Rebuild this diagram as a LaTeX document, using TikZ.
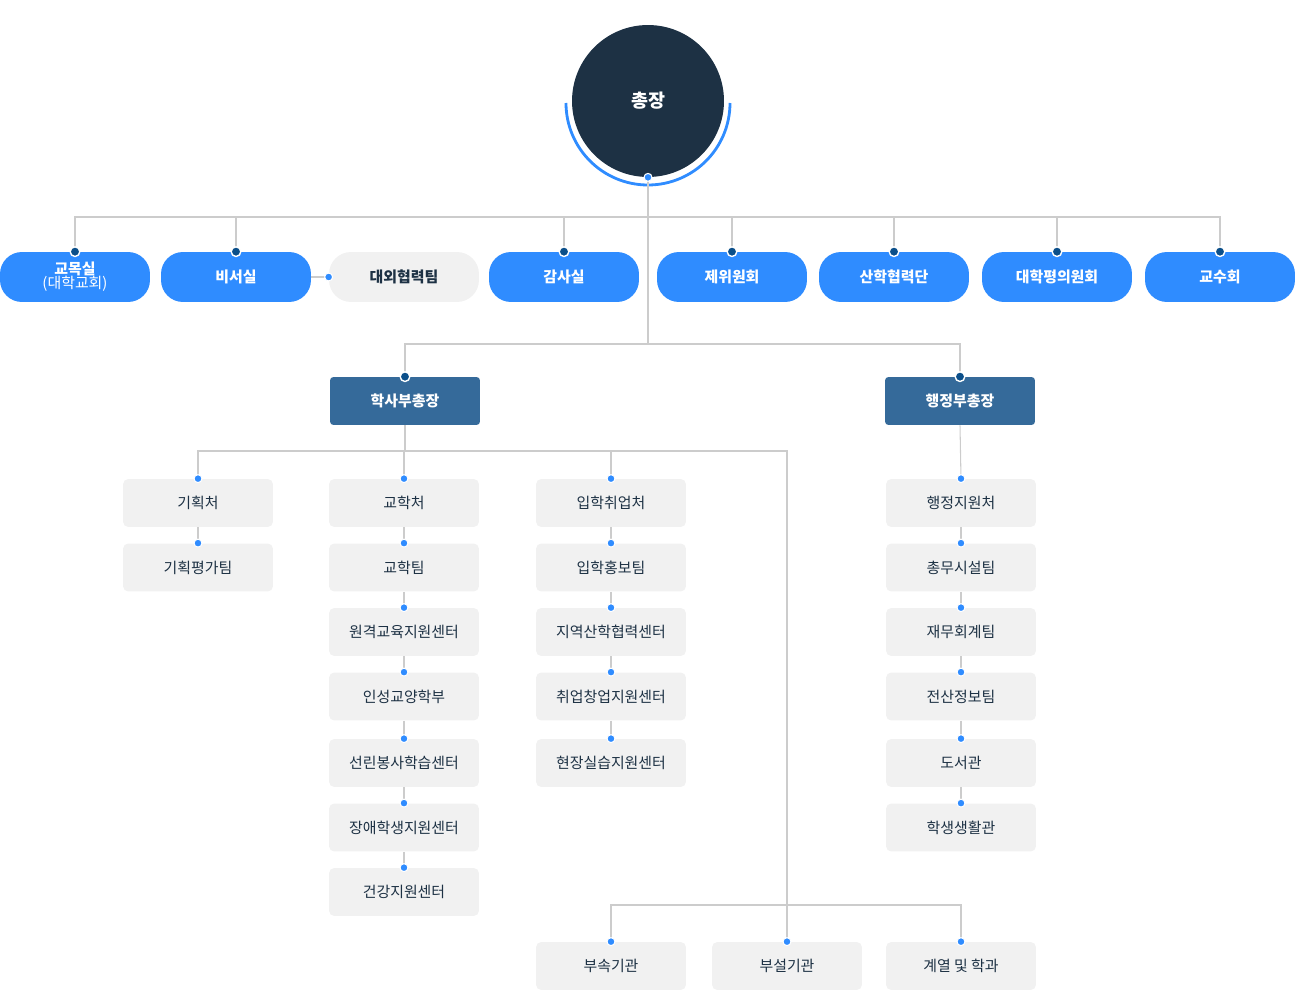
\documentclass[tikz,border=0pt]{standalone}
\usepackage{fontspec}
\newfontfamily\kr{Noto Sans CJK KR}
\usetikzlibrary{positioning}
\definecolor{navy}{HTML}{1D3144}
\definecolor{brightblue}{HTML}{2F8CFF}
\definecolor{vpblue}{HTML}{356A9A}
\definecolor{dotdark}{HTML}{0B4F8A}
\definecolor{boxgray}{HTML}{F1F1F1}
\definecolor{linegray}{HTML}{CCCCCC}
\tikzset{
  pill/.style={rectangle, rounded corners=12.5pt, fill=brightblue, text=white, minimum width=3cm, minimum height=1cm, font=\kr\bfseries\fontsize{8.5}{10}\selectfont, align=center},
  graypill/.style={pill, fill=boxgray, text=navy},
  vpbox/.style={rectangle, rounded corners=2pt, fill=vpblue, text=white, minimum width=3cm, minimum height=0.96cm, font=\kr\bfseries\fontsize{8.5}{10}\selectfont},
  unit/.style={rectangle, rounded corners=3pt, fill=boxgray, text=navy, minimum width=3cm, minimum height=0.96cm, font=\kr\fontsize{8.5}{10}\selectfont},
  link/.style={draw=linegray, line width=0.6pt},
  bigdot/.style={circle, fill=dotdark, draw=white, line width=0.8pt, inner sep=0pt, minimum size=5.5pt},
  smalldot/.style={circle, fill=brightblue, draw=white, line width=0.6pt, inner sep=0pt, minimum size=4.5pt},
}
\begin{document}
\begin{tikzpicture}[x=0.02cm, y=-0.02cm]
\useasboundingbox (0,0) rectangle (1296,1000);
% president
\node[circle, fill=navy, minimum size=3.04cm, inner sep=0pt, text=white, font=\kr\bfseries\fontsize{10.5}{12}\selectfont] (pres) at (648,101) {총장};
\draw[brightblue, line width=1.6pt] (566,103) arc[start angle=180, end angle=0, radius=82];
% first row
\foreach \nm/\x/\txt in {r1/75/{교목실\\[-2pt]{\mdseries(대학교회)}}, r2/236/비서실, r4/564/감사실, r5/732/제위원회, r6/894/산학협력단, r7/1057/대학평의원회, r8/1220/교수회}
  \node[pill] (\nm) at (\x,277) {\txt};
\node[graypill] (r3) at (404,277) {대외협력팀};
\coordinate (bus1) at (648,217);
\draw[link] (pres.south) -- (648,344);
\draw[link] (r1.north) -- (75,217) -- (1220,217) -- (r8.north);
\foreach \nm in {r2,r4,r5,r6,r7}
  \draw[link] (\nm.north) -- (\nm.north |- bus1);
\foreach \nm in {r1,r2,r4,r5,r6,r7,r8}
  \node[bigdot] at (\nm.north) {};
\draw[link] (r2.east) -- (r3.west);
\node[smalldot] at (r3.west) {};
% vice presidents
\node[vpbox] (acad) at (405,401) {학사부총장};
\node[vpbox] (admin) at (960,401) {행정부총장};
\draw[link] (acad.north) -- (405,344) -- (960,344) -- (admin.north);
\node[bigdot] at (acad.north) {};
\node[bigdot] at (admin.north) {};
% academic units
\draw[link] (acad.south) -- (405,451);
\draw[link] (198,479) -- (198,451) -- (787,451) -- (787,942);
\draw[link] (611,451) -- (611,479);
\draw[link] (404,451) -- (404,479);
\foreach \col/\x/\list in {a/198/{기획처,기획평가팀}, b/404/{교학처,교학팀,원격교육지원센터,인성교양학부,선린봉사학습센터,장애학생지원센터,건강지원센터}, c/611/{입학취업처,입학홍보팀,지역산학협력센터,취업창업지원센터,현장실습지원센터}, d/961/{행정지원처,총무시설팀,재무회계팀,전산정보팀,도서관,학생생활관}}{
  \foreach \txt [count=\i] in \list {
    \pgfmathsetmacro\yy{\i<5 ? 503+(\i-1)*64.5 : 763+(\i-5)*64.5}
    \node[unit] (\col\i) at (\x,\yy) {\txt};
  }
}
\draw[link] (admin.south) -- (d1.north);
\foreach \col/\n in {a/2,b/7,c/5,d/6}{
  \foreach \i in {2,...,\n}{
    \pgfmathtruncatemacro\prev{\i-1}
    \draw[link] (\col\prev.south) -- (\col\i.north);
    \node[smalldot] at (\col\i.north) {};
  }
  \node[smalldot] at (\col1.north) {};
}
% bottom row
\node[unit] (e1) at (611,966) {부속기관};
\node[unit] (e2) at (787,966) {부설기관};
\node[unit] (e3) at (961,966) {계열 및 학과};
\draw[link] (e1.north) -- (611,905) -- (961,905) -- (e3.north);
\foreach \nm in {e1,e2,e3}
  \node[smalldot] at (\nm.north) {};
\node[smalldot] at (pres.south) {};
\end{tikzpicture}
\end{document}
